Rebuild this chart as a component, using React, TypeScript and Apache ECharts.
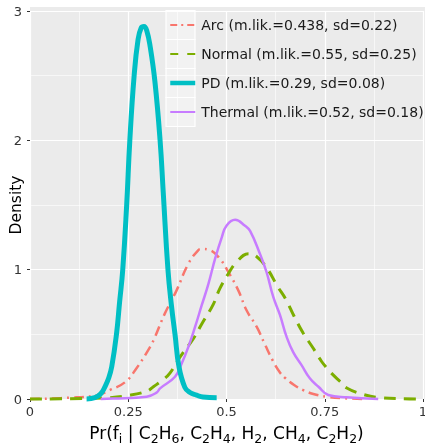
import React, { useEffect, useRef } from "react";
import * as echarts from "echarts";

const seriesNames = [
  "Arc (m.lik.=0.438, sd=0.22)",
  "Normal (m.lik.=0.55, sd=0.25)",
  "PD (m.lik.=0.29, sd=0.08)",
  "Thermal (m.lik.=0.52, sd=0.18)",
];

const arcX = [0, 0.1, 0.17, 0.204, 0.242, 0.267, 0.305, 0.318, 0.343, 0.373, 0.403, 0.428, 0.437, 0.458, 0.483, 0.505, 0.53, 0.551, 0.577, 0.598, 0.619, 0.636, 0.65, 0.672, 0.695, 0.721, 0.755, 0.8, 0.85];
const arcY = [0, 0.01, 0.03, 0.07, 0.13, 0.22, 0.4, 0.48, 0.66, 0.84, 1.046, 1.15, 1.16, 1.15, 1.085, 0.98, 0.84, 0.686, 0.557, 0.42, 0.29, 0.205, 0.16, 0.108, 0.069, 0.039, 0.018, 0.006, 0.0];

const normalX = [0, 0.1, 0.2, 0.246, 0.297, 0.314, 0.339, 0.356, 0.382, 0.416, 0.437, 0.466, 0.483, 0.505, 0.526, 0.556, 0.577, 0.602, 0.63, 0.651, 0.672, 0.695, 0.719, 0.742, 0.758, 0.77, 0.789, 0.806, 0.848, 0.89, 0.95, 1.0];
const normalY = [0, 0.002, 0.01, 0.025, 0.06, 0.095, 0.15, 0.2, 0.326, 0.468, 0.58, 0.73, 0.853, 0.97, 1.06, 1.123, 1.1, 1.015, 0.87, 0.77, 0.64, 0.51, 0.4, 0.29, 0.23, 0.19, 0.135, 0.085, 0.035, 0.01, 0.002, 0];

const pdX = [0.144, 0.165, 0.18, 0.19, 0.2, 0.208, 0.22, 0.228, 0.236, 0.246, 0.254, 0.265, 0.275, 0.283, 0.29, 0.297, 0.306, 0.318, 0.331, 0.339, 0.351, 0.36, 0.369, 0.379, 0.394, 0.407, 0.424, 0.44, 0.475];
const pdY = [0.0, 0.01, 0.04, 0.09, 0.16, 0.25, 0.5, 0.75, 1.0, 1.5, 2.0, 2.5, 2.78, 2.87, 2.88, 2.85, 2.72, 2.45, 2.0, 1.6, 1.0, 0.72, 0.5, 0.25, 0.09, 0.05, 0.03, 0.015, 0.01];

const thermalX = [0.18, 0.21, 0.297, 0.322, 0.331, 0.369, 0.386, 0.403, 0.42, 0.437, 0.454, 0.471, 0.488, 0.5, 0.522, 0.547, 0.56, 0.585, 0.602, 0.619, 0.636, 0.653, 0.67, 0.691, 0.712, 0.734, 0.759, 0.806, 0.886];
const thermalY = [0, 0.003, 0.018, 0.049, 0.082, 0.172, 0.275, 0.403, 0.557, 0.725, 0.89, 1.085, 1.25, 1.34, 1.385, 1.34, 1.3, 1.123, 0.98, 0.789, 0.65, 0.48, 0.36, 0.262, 0.16, 0.095, 0.031, 0.013, 0];

const colors = ["#F8766D", "#7CAE00", "#00BFC4", "#C77CFF"];
const FONT = "DejaVu Sans";

const zip = (xs: number[], ys: number[]) => xs.map((x, i) => [x, ys[i]]);

export default function App() {
  const ref = useRef<HTMLDivElement>(null);
  useEffect(() => {
    const chart = echarts.init(ref.current!, null, { renderer: "svg" });
    const lineStyles: any[] = [
      { width: 2.5, type: [10, 5, 2, 5] },
      { width: 3, type: [12, 8] },
      { width: 5, type: "solid" },
      { width: 2.5, type: "solid" },
    ];
    const legendLines: any[] = [
      { width: 1.8, type: [7, 4, 2, 4] },
      { width: 2.2, type: [8, 9] },
      { width: 4.5, type: "solid" },
      { width: 2, type: "solid" },
    ];
    const data = [zip(arcX, arcY), zip(normalX, normalY), zip(pdX, pdY), zip(thermalX, thermalY)];
    const keyRects = [0, 1, 2, 3].map((i) => ({
      type: "rect",
      silent: true,
      z: -5,
      shape: { x: 166, y: 10.5 + i * 29, width: 29, height: 29 },
      style: { fill: "#F2F2F2", stroke: "#FFFFFF", lineWidth: 1.2 },
    }));
    const sub = "{b|";
    const xTitle =
      "{a|Pr(f}" + sub + "i}{a| | C}" + sub + "2}{a|H}" + sub + "6}{a|, C}" + sub + "2}{a|H}" + sub +
      "4}{a|, H}" + sub + "2}{a|, CH}" + sub + "4}{a|, C}" + sub + "2}{a|H}" + sub + "2}{a|)}";
    chart.setOption({
      animation: false,
      textStyle: { fontFamily: FONT },
      graphic: [
        {
          type: "rect",
          silent: true,
          z: -10,
          shape: { x: 30, y: 7, width: 395, height: 392 },
          style: { fill: "#EBEBEB" },
        },
        ...keyRects,
      ],
      grid: { left: 30, top: 11, width: 393, height: 388, show: false, containLabel: false, outerBoundsMode: "none" },
      legend: {
        orient: "vertical",
        left: 168,
        top: 18,
        padding: 0,
        itemWidth: 25,
        itemHeight: 14,
        itemGap: 15,
        data: seriesNames.map((name, i) => ({ name, lineStyle: { color: colors[i], ...legendLines[i] } })),
        itemStyle: { opacity: 0, color: "rgba(0,0,0,0)", borderWidth: 0 },
        textStyle: { fontFamily: FONT, fontSize: 14, color: "#1A1A1A", lineHeight: 14, padding: [0, 0, 0, 1] },
      },
      xAxis: {
        type: "value",
        min: 0,
        max: 1,
        interval: 0.25,
        name: xTitle,
        nameLocation: "middle",
        nameGap: 22,
        nameMoveOverlap: false,
        nameTextStyle: {
          rich: {
            a: { fontFamily: FONT, fontSize: 17, color: "#000", lineHeight: 24, verticalAlign: "middle" },
            b: { fontFamily: FONT, fontSize: 12.5, color: "#000", lineHeight: 12, verticalAlign: "bottom" },
          },
        },
        axisLine: { show: false },
        axisTick: { show: true, length: 3, lineStyle: { color: "#333", width: 1 } },
        axisLabel: {
          fontFamily: FONT,
          fontSize: 13,
          color: "#333",
          margin: 6,
          formatter: (v: number) => String(v),
        },
        splitLine: { show: true, lineStyle: { color: "#FFFFFF", width: 1.2 } },
        minorTick: { show: false, splitNumber: 2 },
        minorSplitLine: { show: true, lineStyle: { color: "#FFFFFF", width: 0.6 } },
      },
      yAxis: {
        type: "value",
        min: 0,
        max: 3,
        interval: 1,
        name: "Density",
        nameLocation: "middle",
        nameGap: 6,
        nameMoveOverlap: false,
        nameTextStyle: { fontFamily: FONT, fontSize: 15.5, color: "#000" },
        axisLine: { show: false },
        axisTick: { show: true, length: 3, lineStyle: { color: "#333", width: 1 } },
        axisLabel: { fontFamily: FONT, fontSize: 13, color: "#333", margin: 8 },
        splitLine: { show: true, lineStyle: { color: "#FFFFFF", width: 1.2 } },
        minorTick: { show: false, splitNumber: 2 },
        minorSplitLine: { show: true, lineStyle: { color: "#FFFFFF", width: 0.6 } },
      },
      series: seriesNames.map((name, i) => ({
        name,
        type: "line",
        data: data[i],
        symbol: "none",
        showSymbol: false,
        smooth: 0.45,
        clip: false,
        color: colors[i],
        lineStyle: { color: colors[i], ...lineStyles[i] },
        z: i === 2 ? 3 : 2,
      })),
    });
    return () => chart.dispose();
  }, []);
  return <div ref={ref} style={{ position: "fixed", left: 0, top: 0, width: 425, height: 447 }} />;
}
